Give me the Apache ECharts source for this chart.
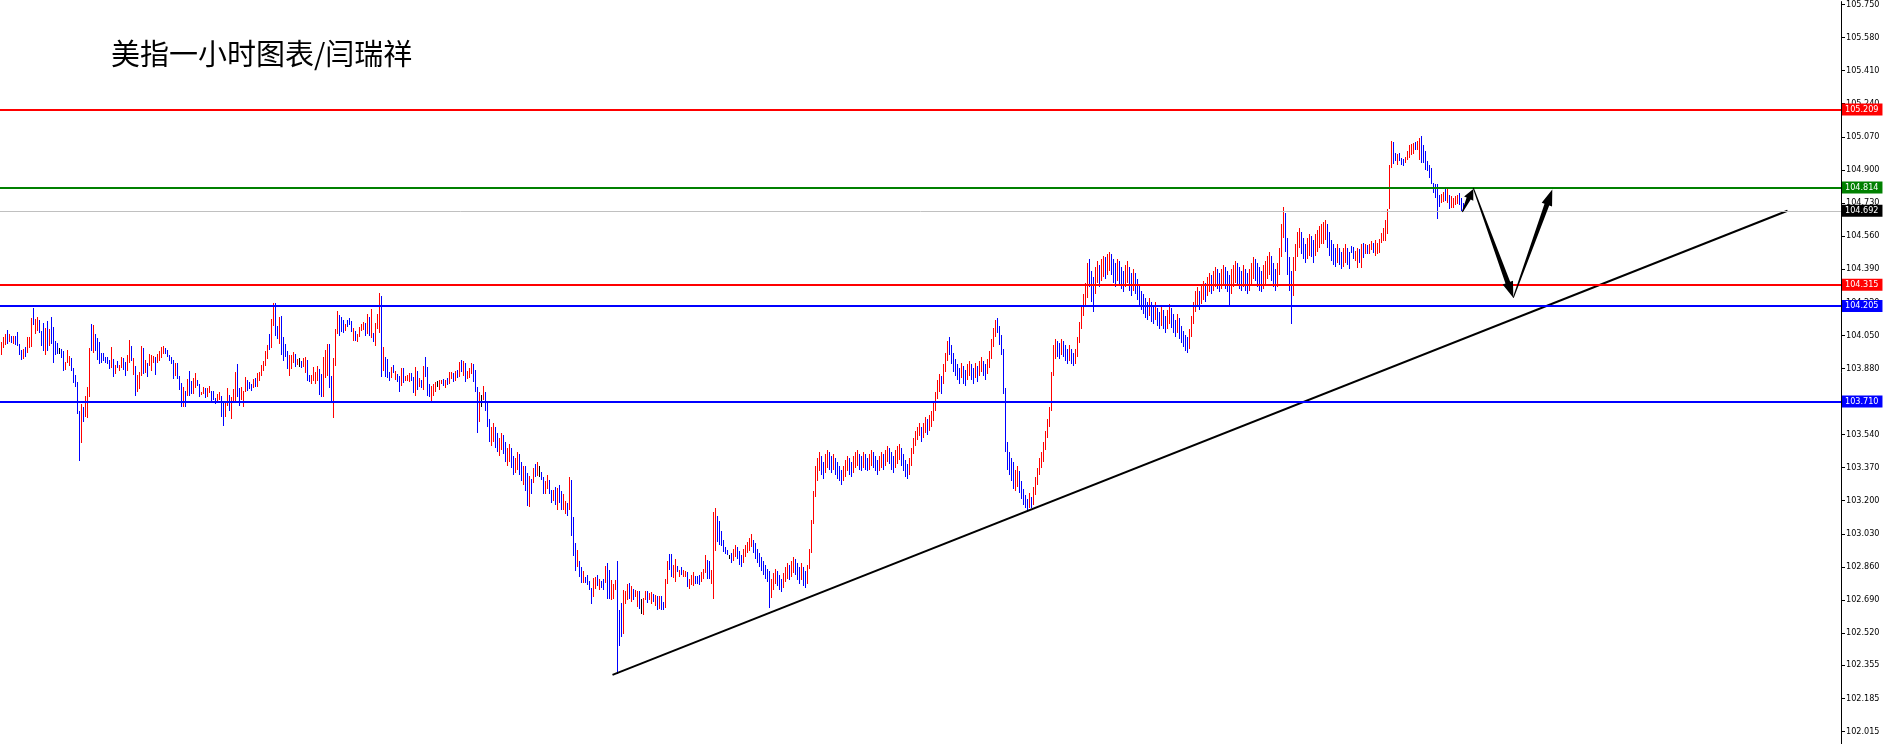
<!DOCTYPE html>
<html><head><meta charset="utf-8">
<script src="https://cdn.jsdelivr.net/npm/echarts@6/dist/echarts.min.js"></script>
<style>html,body{margin:0;padding:0;background:#fff}#chart{width:1884px;height:744px}</style>
</head><body><div id="chart"></div>
<script>
const titleText = '美指一小时图表/闫瑞祥';
const tickLabels = ['102.015','102.185','102.355','102.520','102.690','102.860','103.030','103.200','103.370','103.540','103.710','103.880','104.050','104.220','104.390','104.560','104.730','104.900','105.070','105.240','105.410','105.580','105.750'];
const levelValues = [105.209, 104.814, 104.692, 104.315, 104.205, 103.710];
const levelNames = ['105.209', '104.814', '104.692', '104.315', '104.205', '103.710'];
const trendLine = [[305.5, 102.305], [893, 104.690]];
const arrowLines = [[730.4, 104.684, 735.9, 104.802], [735.9, 104.807, 755.9, 104.243], [755.9, 104.243, 775.4, 104.799]];

const barHigh = [
104.016,104.042,104.059,104.076,104.059,104.047,104.045,104.047,104.067,104.004,
103.975,103.982,103.992,104.042,104.042,104.141,104.190,104.132,104.144,104.129,
104.072,104.112,104.088,104.124,104.084,104.144,104.093,104.021,104.012,103.987,
103.982,103.971,103.915,103.975,103.944,103.934,103.881,103.845,103.811,103.659,
103.696,103.679,103.736,103.782,103.985,104.110,104.103,104.059,104.038,104.016,
103.961,103.961,103.936,103.936,103.922,103.990,103.930,103.898,103.918,103.896,
103.936,103.932,103.914,103.950,104.027,103.996,103.934,103.893,103.847,103.862,
103.996,103.984,103.922,103.910,103.956,103.948,103.944,103.936,103.956,103.970,
103.992,103.996,103.984,103.973,103.950,103.936,103.924,103.910,103.905,103.842,
103.804,103.782,103.765,103.825,103.867,103.813,103.828,103.857,103.821,103.799,
103.760,103.785,103.777,103.778,103.789,103.765,103.763,103.726,103.748,103.760,
103.739,103.710,103.705,103.777,103.744,103.731,103.772,103.859,103.902,103.780,
103.785,103.765,103.837,103.821,103.808,103.799,103.825,103.833,103.855,103.859,
103.898,103.919,103.970,104.001,104.059,104.136,104.214,104.214,104.098,104.144,
104.149,104.042,104.004,103.970,103.950,103.950,103.965,103.953,103.927,103.931,
103.919,103.932,103.939,103.924,103.847,103.847,103.888,103.859,103.893,103.879,
103.850,103.936,103.973,104.004,104.004,103.842,103.932,104.081,104.175,104.155,
104.144,104.127,104.110,104.127,104.137,104.124,104.090,104.072,104.055,104.095,
104.110,104.119,104.115,104.161,104.144,104.184,104.064,104.115,104.161,104.266,
104.252,103.991,103.939,103.929,103.862,103.888,103.898,103.864,103.850,103.842,
103.880,103.880,103.842,103.847,103.856,103.857,103.837,103.885,103.867,103.833,
103.821,103.890,103.939,103.885,103.799,103.787,103.802,103.811,103.816,103.820,
103.820,103.825,103.821,103.833,103.862,103.862,103.856,103.864,103.873,103.914,
103.924,103.919,103.905,103.864,103.880,103.905,103.902,103.873,103.782,103.760,
103.744,103.790,103.760,103.700,103.620,103.580,103.600,103.580,103.550,103.520,
103.550,103.540,103.500,103.470,103.490,103.470,103.430,103.420,103.450,103.440,
103.400,103.380,103.380,103.341,103.329,103.312,103.370,103.390,103.400,103.380,
103.349,103.320,103.300,103.334,103.308,103.257,103.257,103.269,103.266,103.283,
103.249,103.232,103.196,103.189,103.320,103.308,103.115,102.982,102.944,102.890,
102.859,102.838,102.808,102.816,102.785,102.753,102.802,102.808,102.816,102.796,
102.785,102.800,102.862,102.879,102.842,102.791,102.774,102.791,102.888,102.637,
102.674,102.739,102.734,102.770,102.779,102.760,102.748,102.739,102.734,102.734,
102.696,102.700,102.736,102.734,102.727,102.731,102.722,102.717,102.709,102.710,
102.710,102.679,102.799,102.888,102.924,102.924,102.867,102.902,102.862,102.842,
102.859,102.845,102.837,102.833,102.799,102.816,102.833,102.811,102.813,102.816,
102.833,102.850,102.919,102.893,102.888,102.842,103.141,103.161,103.120,103.093,
103.042,102.996,102.961,102.944,102.919,102.930,102.950,102.970,102.960,102.940,
102.920,102.950,102.970,102.990,103.010,103.030,103.000,102.980,102.950,102.930,
102.910,102.890,102.870,102.850,102.840,102.800,102.830,102.850,102.840,102.820,
102.800,102.830,102.860,102.880,102.870,102.890,102.910,102.900,102.880,102.860,
102.880,102.860,102.840,102.870,102.950,103.100,103.250,103.380,103.420,103.450,
103.430,103.400,103.440,103.460,103.450,103.430,103.440,103.420,103.400,103.380,
103.360,103.380,103.410,103.430,103.420,103.400,103.430,103.450,103.460,103.440,
103.430,103.450,103.440,103.420,103.440,103.460,103.450,103.430,103.410,103.430,
103.450,103.440,103.460,103.480,103.470,103.450,103.430,103.460,103.480,103.490,
103.470,103.440,103.410,103.390,103.420,103.470,103.520,103.560,103.580,103.600,
103.580,103.600,103.630,103.620,103.640,103.660,103.700,103.760,103.820,103.850,
103.840,103.900,103.960,104.020,104.040,104.000,103.960,103.930,103.900,103.880,
103.910,103.890,103.870,103.900,103.920,103.900,103.880,103.910,103.890,103.920,
103.940,103.920,103.900,103.930,103.970,104.030,104.090,104.130,104.140,104.100,
104.050,103.980,103.780,103.500,103.450,103.420,103.400,103.360,103.380,103.350,
103.300,103.260,103.230,103.210,103.240,103.220,103.270,103.320,103.370,103.420,
103.450,103.500,103.560,103.620,103.680,103.860,104.000,104.030,104.020,104.010,
104.030,104.020,104.000,103.980,104.000,103.980,103.960,103.980,104.040,104.120,
104.200,104.260,104.320,104.420,104.440,104.380,104.350,104.400,104.430,104.410,
104.440,104.460,104.450,104.470,104.480,104.470,104.440,104.420,104.440,104.430,
104.400,104.380,104.410,104.430,104.400,104.370,104.390,104.370,104.340,104.310,
104.280,104.260,104.240,104.220,104.240,104.220,104.200,104.220,104.190,104.170,
104.200,104.180,104.150,104.180,104.210,104.190,104.160,104.130,104.160,104.140,
104.100,104.070,104.050,104.040,104.080,104.150,104.220,104.280,104.300,104.280,
104.310,104.330,104.320,104.350,104.370,104.360,104.380,104.400,104.390,104.370,
104.390,104.410,104.400,104.380,104.360,104.390,104.410,104.430,104.420,104.400,
104.380,104.410,104.390,104.370,104.390,104.420,104.450,104.440,104.420,104.400,
104.380,104.410,104.430,104.460,104.480,104.460,104.420,104.390,104.420,104.500,
104.620,104.710,104.680,104.550,104.450,104.380,104.450,104.520,104.580,104.600,
104.580,104.550,104.520,104.550,104.570,104.560,104.540,104.570,104.590,104.610,
104.620,104.630,104.640,104.620,104.580,104.540,104.520,104.500,104.520,104.500,
104.480,104.500,104.520,104.500,104.480,104.508,104.503,104.483,104.500,104.491,
104.517,104.526,104.517,104.514,104.520,104.534,104.526,104.538,104.526,104.543,
104.577,104.603,104.645,104.697,104.927,105.047,105.044,104.987,104.984,104.987,
104.961,104.956,104.965,104.996,105.030,105.033,105.038,105.044,105.050,105.064,
105.073,105.026,104.996,104.944,104.927,104.910,104.833,104.825,104.825,104.770,
104.777,104.787,104.808,104.808,104.770,104.765,104.756,104.765,104.770,104.782,
104.753,104.731
];
const barLow = [
103.951,103.987,104.001,104.004,104.018,104.012,104.004,104.001,103.995,103.948,
103.924,103.927,103.939,103.961,103.983,103.990,104.105,104.055,104.072,104.060,
103.997,103.970,103.949,103.970,103.995,104.007,103.905,103.949,103.956,103.953,
103.932,103.864,103.872,103.905,103.891,103.867,103.807,103.782,103.648,103.406,
103.498,103.602,103.628,103.623,103.734,103.970,103.959,103.970,103.924,103.901,
103.905,103.918,103.905,103.901,103.876,103.881,103.838,103.850,103.884,103.867,
103.880,103.872,103.842,103.864,103.910,103.919,103.847,103.739,103.756,103.773,
103.842,103.850,103.854,103.838,103.893,103.867,103.910,103.847,103.907,103.919,
103.932,103.956,103.956,103.936,103.919,103.902,103.825,103.842,103.825,103.768,
103.684,103.684,103.684,103.739,103.736,103.748,103.748,103.777,103.790,103.731,
103.743,103.748,103.727,103.734,103.751,103.714,103.717,103.697,103.705,103.717,
103.628,103.582,103.628,103.688,103.659,103.620,103.714,103.714,103.731,103.688,
103.717,103.684,103.761,103.765,103.773,103.765,103.779,103.785,103.785,103.816,
103.842,103.867,103.893,103.927,103.975,103.984,104.098,104.047,104.031,104.004,
103.950,103.919,103.936,103.876,103.842,103.876,103.910,103.888,103.898,103.885,
103.881,103.888,103.854,103.816,103.808,103.802,103.816,103.802,103.816,103.744,
103.731,103.731,103.830,103.842,103.777,103.714,103.623,103.893,104.059,104.047,
104.069,104.064,104.072,104.093,104.102,104.069,104.021,104.021,104.013,104.042,
104.072,104.078,104.047,104.055,104.047,104.038,104.018,103.996,104.080,104.064,
103.837,103.864,103.838,103.828,103.813,103.833,103.854,103.821,103.811,103.757,
103.787,103.803,103.813,103.813,103.811,103.816,103.751,103.736,103.768,103.782,
103.779,103.770,103.838,103.736,103.731,103.700,103.736,103.756,103.782,103.770,
103.799,103.791,103.779,103.796,103.799,103.825,103.808,103.816,103.830,103.838,
103.859,103.842,103.808,103.825,103.833,103.850,103.808,103.760,103.546,103.606,
103.683,103.719,103.660,103.580,103.500,103.480,103.500,103.470,103.450,103.430,
103.460,103.440,103.400,103.380,103.400,103.370,103.330,103.340,103.360,103.330,
103.300,103.280,103.252,103.175,103.170,103.235,103.290,103.324,103.329,103.320,
103.307,103.235,103.232,103.261,103.235,103.189,103.196,103.180,103.153,103.187,
103.150,103.150,103.129,103.119,103.150,103.021,102.914,102.838,102.859,102.808,
102.777,102.777,102.777,102.765,102.739,102.667,102.705,102.744,102.760,102.739,
102.751,102.740,102.777,102.693,102.693,102.688,102.693,102.739,102.308,102.452,
102.500,102.517,102.671,102.691,102.696,102.679,102.688,102.705,102.654,102.645,
102.620,102.614,102.688,102.674,102.688,102.671,102.679,102.657,102.637,102.645,
102.637,102.637,102.649,102.774,102.842,102.808,102.802,102.782,102.833,102.808,
102.816,102.808,102.808,102.756,102.748,102.765,102.760,102.773,102.773,102.765,
102.782,102.799,102.828,102.796,102.796,102.774,102.693,102.941,102.987,102.973,
102.965,102.936,102.927,102.919,102.902,102.880,102.890,102.910,102.900,102.870,
102.860,102.880,102.910,102.930,102.940,102.960,102.930,102.900,102.880,102.860,
102.840,102.820,102.800,102.780,102.650,102.700,102.740,102.770,102.760,102.740,
102.730,102.750,102.780,102.800,102.790,102.810,102.830,102.820,102.790,102.770,
102.790,102.760,102.750,102.770,102.850,102.930,103.080,103.220,103.300,103.350,
103.330,103.310,103.340,103.370,103.360,103.340,103.360,103.330,103.310,103.300,
103.280,103.300,103.320,103.350,103.330,103.320,103.340,103.370,103.380,103.360,
103.350,103.370,103.360,103.350,103.360,103.380,103.370,103.350,103.330,103.350,
103.370,103.360,103.380,103.400,103.390,103.360,103.340,103.370,103.390,103.410,
103.380,103.350,103.320,103.310,103.330,103.380,103.440,103.480,103.510,103.530,
103.500,103.520,103.550,103.540,103.560,103.580,103.610,103.660,103.720,103.760,
103.750,103.800,103.860,103.920,103.950,103.900,103.860,103.840,103.820,103.800,
103.830,103.800,103.790,103.820,103.840,103.820,103.800,103.830,103.810,103.840,
103.860,103.840,103.820,103.850,103.880,103.930,103.990,104.040,104.060,104.000,
103.950,103.750,103.450,103.360,103.330,103.300,103.260,103.250,103.270,103.240,
103.210,103.180,103.160,103.150,103.160,103.160,103.180,103.230,103.280,103.330,
103.370,103.400,103.460,103.520,103.580,103.660,103.840,103.930,103.940,103.930,
103.950,103.940,103.920,103.900,103.920,103.900,103.890,103.900,103.940,104.010,
104.080,104.150,104.200,104.240,104.300,104.220,104.170,104.260,104.320,104.300,
104.330,104.350,104.340,104.360,104.380,104.360,104.320,104.300,104.330,104.310,
104.290,104.270,104.300,104.320,104.280,104.250,104.280,104.260,104.230,104.200,
104.180,104.160,104.140,104.130,104.150,104.120,104.110,104.130,104.100,104.080,
104.100,104.080,104.060,104.080,104.110,104.090,104.060,104.040,104.060,104.030,
104.010,103.990,103.970,103.960,103.980,104.040,104.110,104.170,104.200,104.180,
104.210,104.230,104.220,104.250,104.270,104.260,104.280,104.300,104.290,104.270,
104.290,104.310,104.290,104.270,104.200,104.260,104.300,104.320,104.310,104.290,
104.280,104.300,104.280,104.260,104.280,104.310,104.340,104.330,104.300,104.280,
104.270,104.290,104.310,104.340,104.360,104.330,104.300,104.280,104.300,104.360,
104.450,104.550,104.480,104.360,104.280,104.110,104.250,104.380,104.450,104.500,
104.470,104.440,104.420,104.440,104.460,104.450,104.420,104.460,104.480,104.500,
104.520,104.520,104.540,104.500,104.460,104.430,104.410,104.400,104.420,104.410,
104.390,104.400,104.420,104.410,104.390,104.474,104.440,104.432,104.397,104.423,
104.394,104.449,104.466,104.466,104.469,104.486,104.474,104.457,104.466,104.474,
104.526,104.534,104.534,104.568,104.697,104.910,104.931,104.944,104.927,104.944,
104.927,104.922,104.936,104.953,104.961,104.979,104.982,105.004,105.004,104.953,
104.936,104.936,104.902,104.893,104.859,104.825,104.782,104.756,104.649,104.708,
104.731,104.734,104.739,104.731,104.697,104.702,104.705,104.719,104.726,104.719,
104.691,104.685
];
// u = up bar, d = down bar, n = unchanged (one letter per bar, grouped by ten)
const barDirection = [
'uuudududdd','duduuuduud','ddududdddn','dduuuddddd','uduuududdd',
'dddddududu','udduududuu','ududuuuduu','uudddddudd','dududduudd',
'uuduuddduu','dduuduuudd','uuuddduduu','uuuuduuddu','dddduuudun',
'duudduuuud','duuudduuud','dduddduduu','uudududuuu','dudddududd',
'uduuuddudu','duddduuunu','ududuududu','duduuudddu','nuddduuddu',
'udduudduud','duddududun','dduuddudud','duududddud','dudddduudu',
'ddudduuudd','duuududuud','nuuduududu','dduudduudu','duuduuuddd',
'uuudduuudd','ddddnduudd','duuuuudddd','ddddduuudd','duuuduuddd',
'udduuuuuuu','dduudduddd','duuudduuud','dudduudddu','uduuddduuu',
'dddduuuuuu','duuduuuuuu','duuudddddd','udduuddudu','udduuuuudd',
'ddddddduud','dddduduuuu','uuuuuuuudd','udddudduuu','uuuuddduud',
'uuduudddud','dduudduddd','dddduddudd','udduudddud','dddduuuuud',
'uuduuduudd','uuddduuudd','dudduuuddd','duuuuddduu','uudddduuuu',
'ddduudduuu','uuudddddud','duudddduud','ududuuduuu','uuuuuuddud',
'dduuuuuduu','dddddddddd','uududuuuud','dd'
].join('');

const yMin = 101.9495, yMax = 105.765;
const tickValues = tickLabels.map(Number);
const levelStyles = [
  {color: '#ff0000', width: 2, bg: '#ff0000'},
  {color: '#008000', width: 2, bg: '#008000'},
  {color: '#c0c0c0', width: 1, bg: '#000000'},
  {color: '#ff0000', width: 2, bg: '#ff0000'},
  {color: '#0000ff', width: 2, bg: '#0000ff'},
  {color: '#0000ff', width: 2, bg: '#0000ff'}
];
const AXIS_FONT = "'DejaVu Sans Condensed', 'Liberation Sans', sans-serif";

const chart = echarts.init(document.getElementById('chart'), null, {renderer: 'canvas'});

function renderBar(params, api) {
  const i = api.value(0);
  const top = api.coord([i, api.value(1)]);
  const bot = api.coord([i, api.value(2)]);
  const x = Math.floor(top[0]);
  const y0 = Math.round(top[1]);
  const y1 = Math.max(Math.round(bot[1]), y0 + 1);
  const d = barDirection[params.dataIndex] || 'n';
  return {
    type: 'rect',
    shape: {x: x, y: y0, width: 1, height: y1 - y0},
    style: {fill: d === 'u' ? '#ff0000' : (d === 'd' ? '#0000ff' : '#000000')}
  };
}

function renderArrow(params, api) {
  const p0 = api.coord([api.value(0), api.value(1)]);
  const p1 = api.coord([api.value(2), api.value(3)]);
  const dx = p1[0] - p0[0], dy = p1[1] - p0[1];
  const len = Math.hypot(dx, dy);
  const ux = dx / len, uy = dy / len, nx = -uy, ny = ux;
  const headLen = Math.min(16, len * 0.42);
  const headW = Math.min(5.5, len * 0.2);
  const w0 = 0.5, w1 = Math.min(2.5, len * 0.09);
  const bx = p1[0] - ux * headLen, by = p1[1] - uy * headLen;
  const pts = [
    [p0[0] + nx * w0, p0[1] + ny * w0],
    [bx + nx * w1, by + ny * w1],
    [bx + nx * headW, by + ny * headW],
    [p1[0], p1[1]],
    [bx - nx * headW, by - ny * headW],
    [bx - nx * w1, by - ny * w1],
    [p0[0] - nx * w0, p0[1] - ny * w0]
  ];
  return {type: 'polygon', shape: {points: pts}, style: {fill: '#000000'}};
}

const option = {
  animation: false,
  backgroundColor: '#ffffff',
  title: {
    text: titleText, left: 106, top: 34,
    textStyle: {fontFamily: 'Noto Sans CJK SC', fontSize: 29, fontWeight: 'normal', color: '#000000'}
  },
  grid: {left: 0, right: 43, top: 0, bottom: 0},
  xAxis: {type: 'value', min: -0.75, max: 919.75, show: false},
  yAxis: {
    type: 'value', position: 'right', min: yMin, max: yMax,
    axisLine: {show: true, onZero: false, lineStyle: {color: '#000000', width: 1}},
    axisTick: {show: true, length: 4, customValues: tickValues, lineStyle: {color: '#000000'}},
    axisLabel: {
      show: true, customValues: tickValues, margin: 5,
      formatter: v => v.toFixed(3),
      color: '#000000', fontSize: 9, fontFamily: AXIS_FONT
    },
    splitLine: {show: false}
  },
  series: [
    {
      type: 'custom', name: 'bars', z: 2, clip: true,
      renderItem: renderBar,
      encode: {x: 0, y: [1, 2]},
      data: barHigh.map((h, i) => [i, h, barLow[i]])
    },
    {
      type: 'line', name: 'levels', z: 3, data: [],
      markLine: {
        silent: true, symbol: 'none', animation: false,
        data: levelValues.map((v, k) => ({
          yAxis: v,
          lineStyle: {color: levelStyles[k].color, width: levelStyles[k].width, type: 'solid'},
          label: {
            show: true, position: 'end', distance: 1, formatter: levelNames[k],
            color: '#ffffff', backgroundColor: levelStyles[k].bg,
            padding: [2, 4, 1, 3], fontSize: 9, fontFamily: AXIS_FONT
          }
        }))
      }
    },
    {
      type: 'line', name: 'trend', z: 4, symbol: 'none',
      lineStyle: {color: '#000000', width: 2},
      data: trendLine
    },
    {
      type: 'custom', name: 'arrows', z: 5,
      renderItem: renderArrow,
      encode: {x: [0, 2], y: [1, 3]},
      data: arrowLines
    }
  ]
};
chart.setOption(option);
</script>
</body></html>
